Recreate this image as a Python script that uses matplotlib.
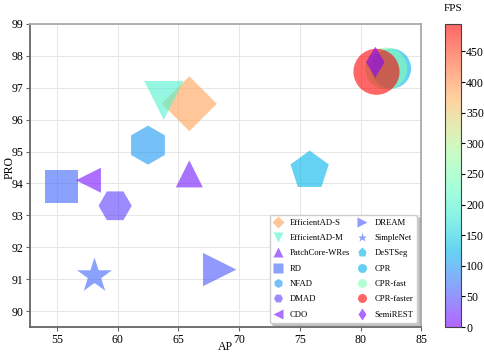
import numpy as np
import matplotlib
matplotlib.use('Agg')
import matplotlib.pyplot as plt
from matplotlib.lines import Line2D
from matplotlib.colors import Normalize

plt.rcParams['font.family'] = 'serif'
plt.rcParams['font.serif'] = ['Liberation Serif', 'DejaVu Serif']

# data
methods = ['EfficientAD-S', 'EfficientAD-M', 'PatchCore-WRes', 'RD', 'NFAD', 'DMAD', 'CDO',
           'DREAM', 'SimpleNet', 'DeSTSeg', 'CPR', 'CPR-fast', 'CPR-faster', 'SemiREST']
ap = [65.9, 63.8, 65.9, 55.4, 62.5, 59.8, 57.6, 68.4, 58.1, 75.8, 82.5, 82.1, 81.3, 81.2]
pro = [96.5, 96.6, 94.3, 93.9, 95.2, 93.3, 94.1, 91.3, 91.1, 94.4, 97.6, 97.6, 97.5, 97.8]
fps = [385, 200, 15, 65, 100, 40, 10, 55, 65, 125, 120, 250, 495, 5]
markers = ['D', 'v', '^', 's', 'h', 'H', '<', '>', '*', 'p', 'o', 'o', 'o', 'd']
sizes = [785, 790, 380, 550, 790, 570, 325, 575, 700, 840, 830, 915, 1100, 250]

cmap = plt.get_cmap('rainbow')
norm = Normalize(vmin=0, vmax=max(fps))
alpha = 0.6

fig = plt.figure(figsize=(4.85, 3.57), dpi=100)
ax = fig.add_axes([0.062, 0.084, 0.807, 0.849])
cax = fig.add_axes([0.9175, 0.084, 0.0325, 0.849])

handles = []
sc = None
for i in range(len(methods)):
    sc = ax.scatter(ap[i], pro[i], s=sizes[i], marker=markers[i], c=[fps[i]],
                    cmap=cmap, norm=norm, alpha=alpha, edgecolors='none', zorder=3 + i)
    handles.append(Line2D([], [], linestyle='none', marker=markers[i], markersize=6.5,
                          markerfacecolor=cmap(norm(fps[i])), markeredgecolor='none',
                          alpha=alpha, label=methods[i]))

ax.set_xlim(52.8, 85)
ax.set_ylim(89.5, 99)
ax.set_xticks(np.arange(55, 86, 5))
ax.set_yticks(np.arange(90, 100, 1))
ax.tick_params(labelsize=8.5, length=3, color='#666666', pad=2)
ax.grid(True, color='#e6e6e6', linewidth=0.7, zorder=0)
ax.set_axisbelow(True)
for side in ['top', 'right']:
    ax.spines[side].set_color('#aaaaaa')
    ax.spines[side].set_linewidth(1.3)
for side in ['left', 'bottom']:
    ax.spines[side].set_color('#666666')
    ax.spines[side].set_linewidth(1.3)
ax.set_xlabel('AP', fontsize=8.5)
ax.xaxis.set_label_coords(0.5, -0.047)
ax.set_ylabel('PRO', fontsize=8.5)
ax.yaxis.set_label_coords(-0.037, 0.526)

ax.legend(handles=handles, ncol=2, loc='lower right', fontsize=6.2,
          shadow={'color': '#999999', 'alpha': 0.5}, fancybox=True,
          frameon=True, edgecolor='#cccccc', framealpha=1,
          handlelength=1.0, handletextpad=0.9, columnspacing=0.9,
          labelspacing=0.85, borderpad=0.45)

cb = fig.colorbar(sc, cax=cax)
cb.set_ticks(np.arange(0, 451, 50))
cb.ax.tick_params(labelsize=8.5, length=3, pad=1)
cb.outline.set_edgecolor('#444444')
cb.outline.set_linewidth(0.8)
cax.set_title('FPS', fontsize=8, pad=9)

fig.savefig('out.png', dpi=100)
